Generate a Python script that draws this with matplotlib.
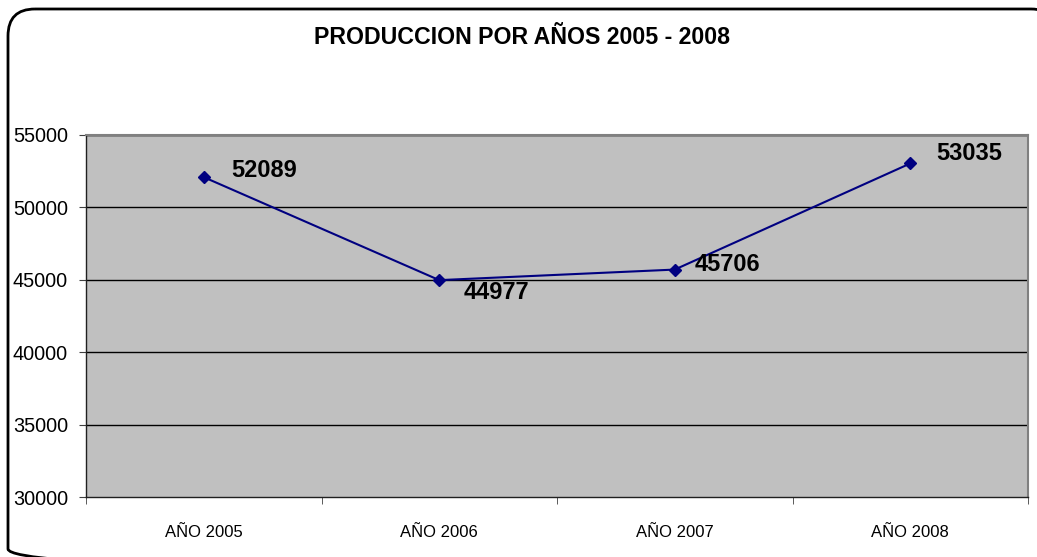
import matplotlib
matplotlib.use("Agg")
import matplotlib.pyplot as plt
from matplotlib.patches import FancyBboxPatch

categories = ["AÑO 2005", "AÑO 2006", "AÑO 2007", "AÑO 2008"]
values = [52089, 44977, 45706, 53035]
yticks = [30000, 35000, 40000, 45000, 50000, 55000]
title = "PRODUCCION POR AÑOS 2005 - 2008"

REG = ["Liberation Sans", "DejaVu Sans"]

fig = plt.figure(figsize=(10.37, 5.57), dpi=100)
W, H = 1037, 557

# full-figure pixel-space overlay for the rounded frame
bg = fig.add_axes([0, 0, 1, 1])
bg.set_xlim(0, W)
bg.set_ylim(H, 0)
bg.axis("off")
bg.add_patch(FancyBboxPatch((8, 9), 1058 - 8, 576 - 9,
                            boxstyle="round,pad=0,rounding_size=27",
                            fill=False, ec="black", lw=2))

ax = fig.add_axes([86 / W, 1 - 497 / H, (1028 - 86) / W, (497 - 135) / H])
ax.set_facecolor("#C0C0C0")

x = list(range(len(categories)))
ax.plot(x, values, color="#000080", lw=1.5, marker="D", ms=6.5, mfc="#000080", mec="#000080", zorder=3)

ax.set_xlim(-0.5, len(categories) - 0.5)
ax.set_ylim(30000, 55000)
ax.set_yticks(yticks)
ax.set_yticklabels([str(v) for v in yticks], fontfamily=REG, fontsize=14.3)
ax.set_xticks(x)
ax.set_xticklabels(categories, fontfamily=REG, fontsize=12)
ax.tick_params(axis="x", length=0, pad=20)
ax.set_xticks([i - 0.5 for i in range(len(categories) + 1)], minor=True)
ax.tick_params(axis="x", which="minor", length=5, color="#404040", direction="out")
ax.tick_params(axis="y", length=5, color="#404040", pad=8)

for v in yticks[1:-1]:
    ax.axhline(v, color="black", lw=1, zorder=1)
ax.axhline(55000, color="#808080", lw=2, zorder=1)

for s in ["top", "right"]:
    ax.spines[s].set_color("#808080")
    ax.spines[s].set_linewidth(1.5)
for s in ["left", "bottom"]:
    ax.spines[s].set_color("#202020")
    ax.spines[s].set_linewidth(1)

offsets = [(28, 7), (24, -12), (20, 5), (26, 10)]
for xi, v, (dx, dy) in zip(x, values, offsets):
    ax.annotate(str(v), (xi, v), xytext=(dx * 0.72, dy * 0.72), textcoords="offset points",
                fontfamily=REG, fontsize=17, fontweight="bold", ha="left", va="center", zorder=4)

fig.text(522 / W, 1 - 38 / H, title, fontfamily=REG, fontsize=16.7, fontweight="bold", ha="center", va="center")

fig.savefig("out.png", dpi=100)
